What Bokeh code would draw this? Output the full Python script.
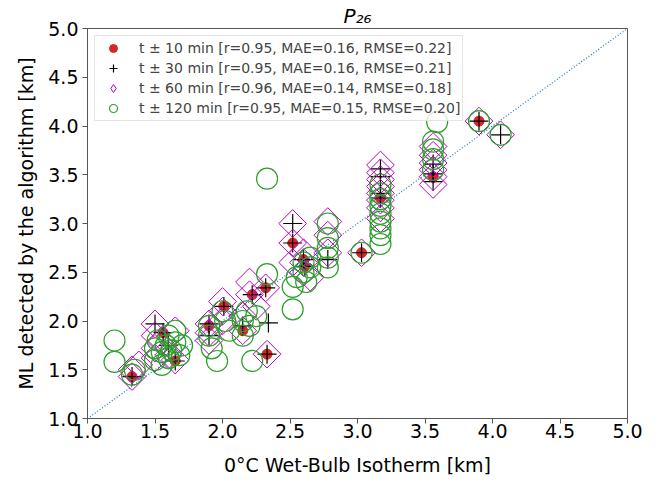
import numpy as np
from bokeh.plotting import figure
from bokeh.models import Range1d, FixedTicker, PrintfTickFormatter, Slope
from bokeh.embed import file_html
from bokeh.resources import INLINE

# ---- data ----
x10 = [1.33, 1.56, 1.65, 1.90, 2.01, 2.15, 2.22, 2.32, 2.33, 2.52, 2.60, 2.61, 3.03, 3.17, 3.56, 3.90]
y10 = [1.43, 1.88, 1.59, 1.95, 2.15, 1.90, 2.27, 2.34, 1.66, 2.80, 2.63, 2.56, 2.70, 3.26, 3.48, 4.05]

x30 = [1.33, 1.50, 1.65, 1.90, 1.90, 2.01, 2.15, 2.22, 2.32, 2.34, 2.33, 2.52, 2.52, 2.60, 2.61,
       2.78, 3.03, 3.17, 3.17, 3.17, 3.17, 3.56, 3.56, 3.56, 3.90, 4.06, 1.56, 1.60]
y30 = [1.43, 1.97, 1.59, 1.97, 1.85, 2.15, 1.95, 2.27, 2.34, 1.98, 1.66, 3.00, 2.80, 2.63, 2.56,
       2.63, 2.70, 3.56, 3.48, 3.31, 3.26, 3.61, 3.51, 3.43, 4.05, 3.91, 1.88, 1.75]

x60 = [1.33, 1.33, 1.38, 1.50, 1.50, 1.50, 1.50, 1.55, 1.60, 1.65, 1.65, 1.90, 1.90, 1.90,
       2.00, 2.00, 2.00, 2.15, 2.15, 2.20, 2.20, 2.25, 2.32, 2.33, 2.52, 2.52, 2.52,
       2.60, 2.60, 2.60, 2.65, 2.78, 2.78, 2.78, 3.03,
       3.17, 3.17, 3.17, 3.17, 3.17, 3.17, 3.17, 3.17,
       3.56, 3.56, 3.56, 3.56, 3.56, 3.56, 3.90, 4.06]
y60 = [1.43, 1.50, 1.55, 1.97, 1.85, 1.72, 1.62, 1.80, 1.65, 1.90, 1.60, 1.97, 1.88, 1.80,
       2.20, 2.10, 2.00, 2.05, 1.90, 2.27, 2.40, 2.15, 2.34, 1.66, 3.00, 2.80, 2.60,
       2.70, 2.60, 2.50, 2.45, 3.02, 2.88, 2.70, 2.70,
       3.60, 3.52, 3.45, 3.38, 3.31, 3.24, 3.16, 3.05,
       3.79, 3.70, 3.62, 3.55, 3.48, 3.40, 4.05, 3.91]

x120 = [1.20, 1.20, 1.33, 1.35, 1.50, 1.50, 1.52, 1.55, 1.55, 1.58, 1.60, 1.60, 1.62, 1.65, 1.65, 1.68, 1.70,
        1.90, 1.90, 1.92, 1.96, 2.00, 2.02, 2.05, 2.15, 2.15, 2.18, 2.20, 2.22, 2.25,
        2.33, 2.33, 2.52, 2.52, 2.55, 2.60, 2.60, 2.62, 2.65, 2.65,
        2.78, 2.78, 2.78, 2.78, 2.78, 3.03,
        3.17, 3.17, 3.17, 3.17, 3.17, 3.17, 3.17, 3.17, 3.17,
        3.56, 3.56, 3.56, 3.56, 3.59, 3.90, 4.06]
y120 = [1.80, 1.58, 1.45, 1.50, 1.60, 1.72, 1.80, 1.55, 1.68, 1.75, 1.62, 1.85, 1.70, 1.90, 1.78, 1.65, 1.75,
        1.95, 1.85, 1.72, 1.59, 2.10, 2.00, 1.90, 2.00, 1.85, 2.10, 1.95, 1.59, 2.05,
        3.46, 2.48, 2.12, 2.35, 2.45, 2.60, 2.50, 2.40, 2.55, 2.65,
        3.00, 2.85, 2.75, 2.65, 2.55, 2.70,
        3.31, 3.25, 3.18, 3.10, 3.02, 2.95, 2.88, 2.79, 3.40,
        3.84, 3.76, 3.66, 3.55, 4.04, 4.05, 3.91]

labels = ["t \u00b1 10 min [r=0.95, MAE=0.16, RMSE=0.22]",
          "t \u00b1 30 min [r=0.95, MAE=0.16, RMSE=0.21]",
          "t \u00b1 60 min [r=0.96, MAE=0.14, RMSE=0.18]",
          "t \u00b1 120 min [r=0.95, MAE=0.15, RMSE=0.20]"]
ticks = [1.0, 1.5, 2.0, 2.5, 3.0, 3.5, 4.0, 4.5, 5.0]
title_text = "P\u2082\u2086"

FONT = "DejaVu Sans"
FRAME = "#555555"

p = figure(width=670, height=481, output_backend="svg", toolbar_location=None,
           x_range=Range1d(1, 5), y_range=Range1d(1, 5),
           min_border_left=87, min_border_right=43, min_border_top=26, min_border_bottom=63)
p.title.text = title_text
p.title.text_font = FONT
p.title.text_font_style = "italic"
p.title.text_font_size = "20px"
p.title.text_color = "black"
p.title.align = "center"
p.title.standoff = 2

p.xgrid.visible = False
p.ygrid.visible = False
p.outline_line_color = FRAME
p.outline_line_width = 1

for ax in (p.xaxis[0], p.yaxis[0]):
    ax.ticker = FixedTicker(ticks=ticks)
    ax.formatter = PrintfTickFormatter(format="%.1f")
    ax.major_label_text_font = FONT
    ax.major_label_text_font_size = "19px"
    ax.major_label_text_color = "black"
    ax.axis_label_text_font = FONT
    ax.axis_label_text_font_size = "19px"
    ax.axis_label_text_font_style = "normal"
    ax.axis_label_text_color = "black"
    ax.axis_line_color = FRAME
    ax.major_tick_line_color = FRAME
    ax.major_tick_in = 0
    ax.major_tick_out = 5
    ax.minor_tick_line_color = None

p.xaxis.axis_label = "0\u00b0C Wet-Bulb Isotherm [km]"
p.yaxis.axis_label = "ML detected by the algorithm [km]"
p.xaxis.major_label_standoff = 0
p.xaxis.axis_label_standoff = 13
p.yaxis.major_label_standoff = 4
p.yaxis.axis_label_standoff = 8

p.add_layout(Slope(gradient=1, y_intercept=0, line_color="#1f77b4", line_dash="1 2", line_width=1.2))

p.scatter(x10, y10, marker="circle", size=10, fill_color="#d62728", line_color="#d62728",
          legend_label=labels[0])
p.scatter(x30, y30, marker="cross", size=19, line_color="black", line_width=1.2,
          legend_label=labels[1])
p.scatter(x60, y60, marker="square", angle=np.pi / 4, size=19.6, fill_color=None,
          line_color="#bf00bf", line_width=1)
# legend-only proxy (a single missing value, nothing is drawn) so the legend shows a diamond
p.scatter(x=[np.nan], y=[np.nan], marker="diamond", size=19.6, fill_color=None,
          line_color="#bf00bf", line_width=1, legend_label=labels[2])
p.scatter(x120, y120, marker="circle", size=21, fill_color=None, line_color="#2ca02c",
          line_width=1.2, legend_label=labels[3])

p.legend.location = "top_left"
p.legend.margin = 7
p.legend.padding = 2
p.legend.spacing = 0
p.legend.label_height = 20
p.legend.glyph_height = 20
p.legend.glyph_width = 32
p.legend.label_standoff = 10
p.legend.label_text_font = FONT
p.legend.label_text_font_size = "14px"
p.legend.border_line_color = "#cccccc"
p.legend.background_fill_alpha = 0.8

open("out.html", "w").write(file_html(p, INLINE))
